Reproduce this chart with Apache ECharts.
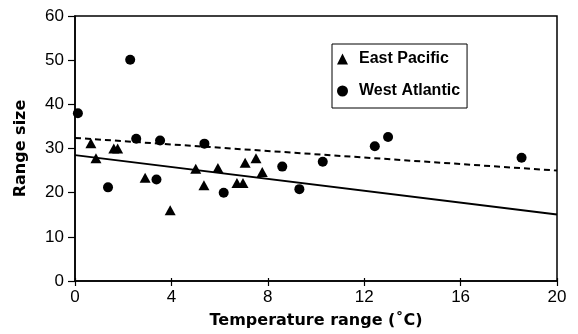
<!DOCTYPE html>
<html>
<head>
<meta charset="utf-8">
<script src="https://cdn.jsdelivr.net/npm/echarts@6/dist/echarts.min.js"></script>
<style>
html,body{margin:0;padding:0;background:#fff;}
#chart{width:578px;height:334px;}
</style>
</head>
<body>
<div id="chart"></div>
<script>
// Data
var eastPacificX = [0.66, 0.87, 1.61, 1.77, 2.91, 3.95, 5.01, 5.35, 5.93, 6.72, 6.97, 7.06, 7.51, 7.77];
var eastPacificY = [31.2, 27.8, 30.0, 30.0, 23.4, 16.0, 25.4, 21.7, 25.6, 22.2, 22.2, 26.8, 27.8, 24.7];
var westAtlanticX = [0.12, 1.37, 2.29, 2.54, 3.38, 3.53, 5.37, 6.17, 8.6, 9.31, 10.28, 12.44, 12.99, 18.53];
var westAtlanticY = [38.0, 21.2, 50.1, 32.2, 23.0, 31.8, 31.1, 20.0, 25.9, 20.8, 27.0, 30.5, 32.6, 27.9];
var fitX = [0, 20];
var eastPacificFitY = [28.5, 15.05];
var westAtlanticFitY = [32.4, 25.0];
var xTicks = {min: 0, max: 20, interval: 4};
var yTicks = {min: 0, max: 60, interval: 10};

function pairs(xs, ys) { return xs.map(function (x, i) { return [x, ys[i]]; }); }

var chart = echarts.init(document.getElementById('chart'), null, {renderer: 'canvas'});
var tickFont = {color: '#000', fontFamily: 'Liberation Sans, Arial, sans-serif', fontSize: 17};
var titleFont = {color: '#000', fontFamily: 'DejaVu Sans, sans-serif', fontSize: 16, fontWeight: 'bold'};

chart.setOption({
  backgroundColor: '#fff',
  animation: false,
  grid: {left: 75, right: 21, top: 16, bottom: 52, show: true, borderColor: '#000', borderWidth: 1.5, containLabel: false},
  legend: {
    orient: 'vertical',
    left: 332, top: 44,
    padding: [7, 7, 9, 5],
    itemWidth: 11, itemHeight: 11, itemGap: 16,
    borderColor: '#000', borderWidth: 1,
    backgroundColor: '#fff',
    data: [
      {name: 'East Pacific', icon: 'triangle'},
      {name: 'West Atlantic', icon: 'circle'}
    ],
    textStyle: {color: '#000', fontFamily: 'Liberation Sans, Arial, sans-serif', fontSize: 16, fontWeight: 'bold', padding: [0, 0, 0, 6]}
  },
  xAxis: [{
    type: 'value', min: xTicks.min, max: xTicks.max, interval: xTicks.interval,
    name: 'Temperature range (\u02DAC)', nameLocation: 'middle', nameGap: 32,
    nameTextStyle: titleFont,
    axisLine: {show: true, lineStyle: {color: '#000', width: 1.5}},
    axisTick: {show: true, length: 5, lineStyle: {color: '#000', width: 1.2}},
    axisLabel: Object.assign({margin: 8}, tickFont),
    splitLine: {show: false}
  }, {
    type: 'value', min: xTicks.min, max: xTicks.max, interval: xTicks.interval,
    position: 'bottom',
    axisLine: {show: false},
    axisTick: {show: true, inside: true, length: 3, lineStyle: {color: '#000', width: 1.2}},
    axisLabel: {show: false},
    splitLine: {show: false}
  }],
  yAxis: {
    type: 'value', min: yTicks.min, max: yTicks.max, interval: yTicks.interval,
    name: 'Range size', nameLocation: 'middle', nameGap: 46,
    nameTextStyle: titleFont,
    axisLine: {show: true, lineStyle: {color: '#000', width: 1.5}},
    axisTick: {show: true, length: 7, lineStyle: {color: '#000', width: 1.2}},
    axisLabel: Object.assign({margin: 11}, tickFont),
    splitLine: {show: false}
  },
  series: [
    {
      name: 'East Pacific fit', type: 'line', data: pairs(fitX, eastPacificFitY),
      symbol: 'none', lineStyle: {color: '#000', width: 2}, silent: true, z: 1
    },
    {
      name: 'West Atlantic fit', type: 'line', data: pairs(fitX, westAtlanticFitY),
      symbol: 'none', lineStyle: {color: '#000', width: 2, type: [6, 4]}, silent: true, z: 1
    },
    {
      name: 'East Pacific', type: 'scatter', data: pairs(eastPacificX, eastPacificY),
      symbol: 'triangle', symbolSize: [11, 10], itemStyle: {color: '#000', opacity: 1}, z: 3
    },
    {
      name: 'West Atlantic', type: 'scatter', data: pairs(westAtlanticX, westAtlanticY),
      symbol: 'circle', symbolSize: 10, itemStyle: {color: '#000', opacity: 1}, z: 3
    }
  ]
});
</script>
</body>
</html>
